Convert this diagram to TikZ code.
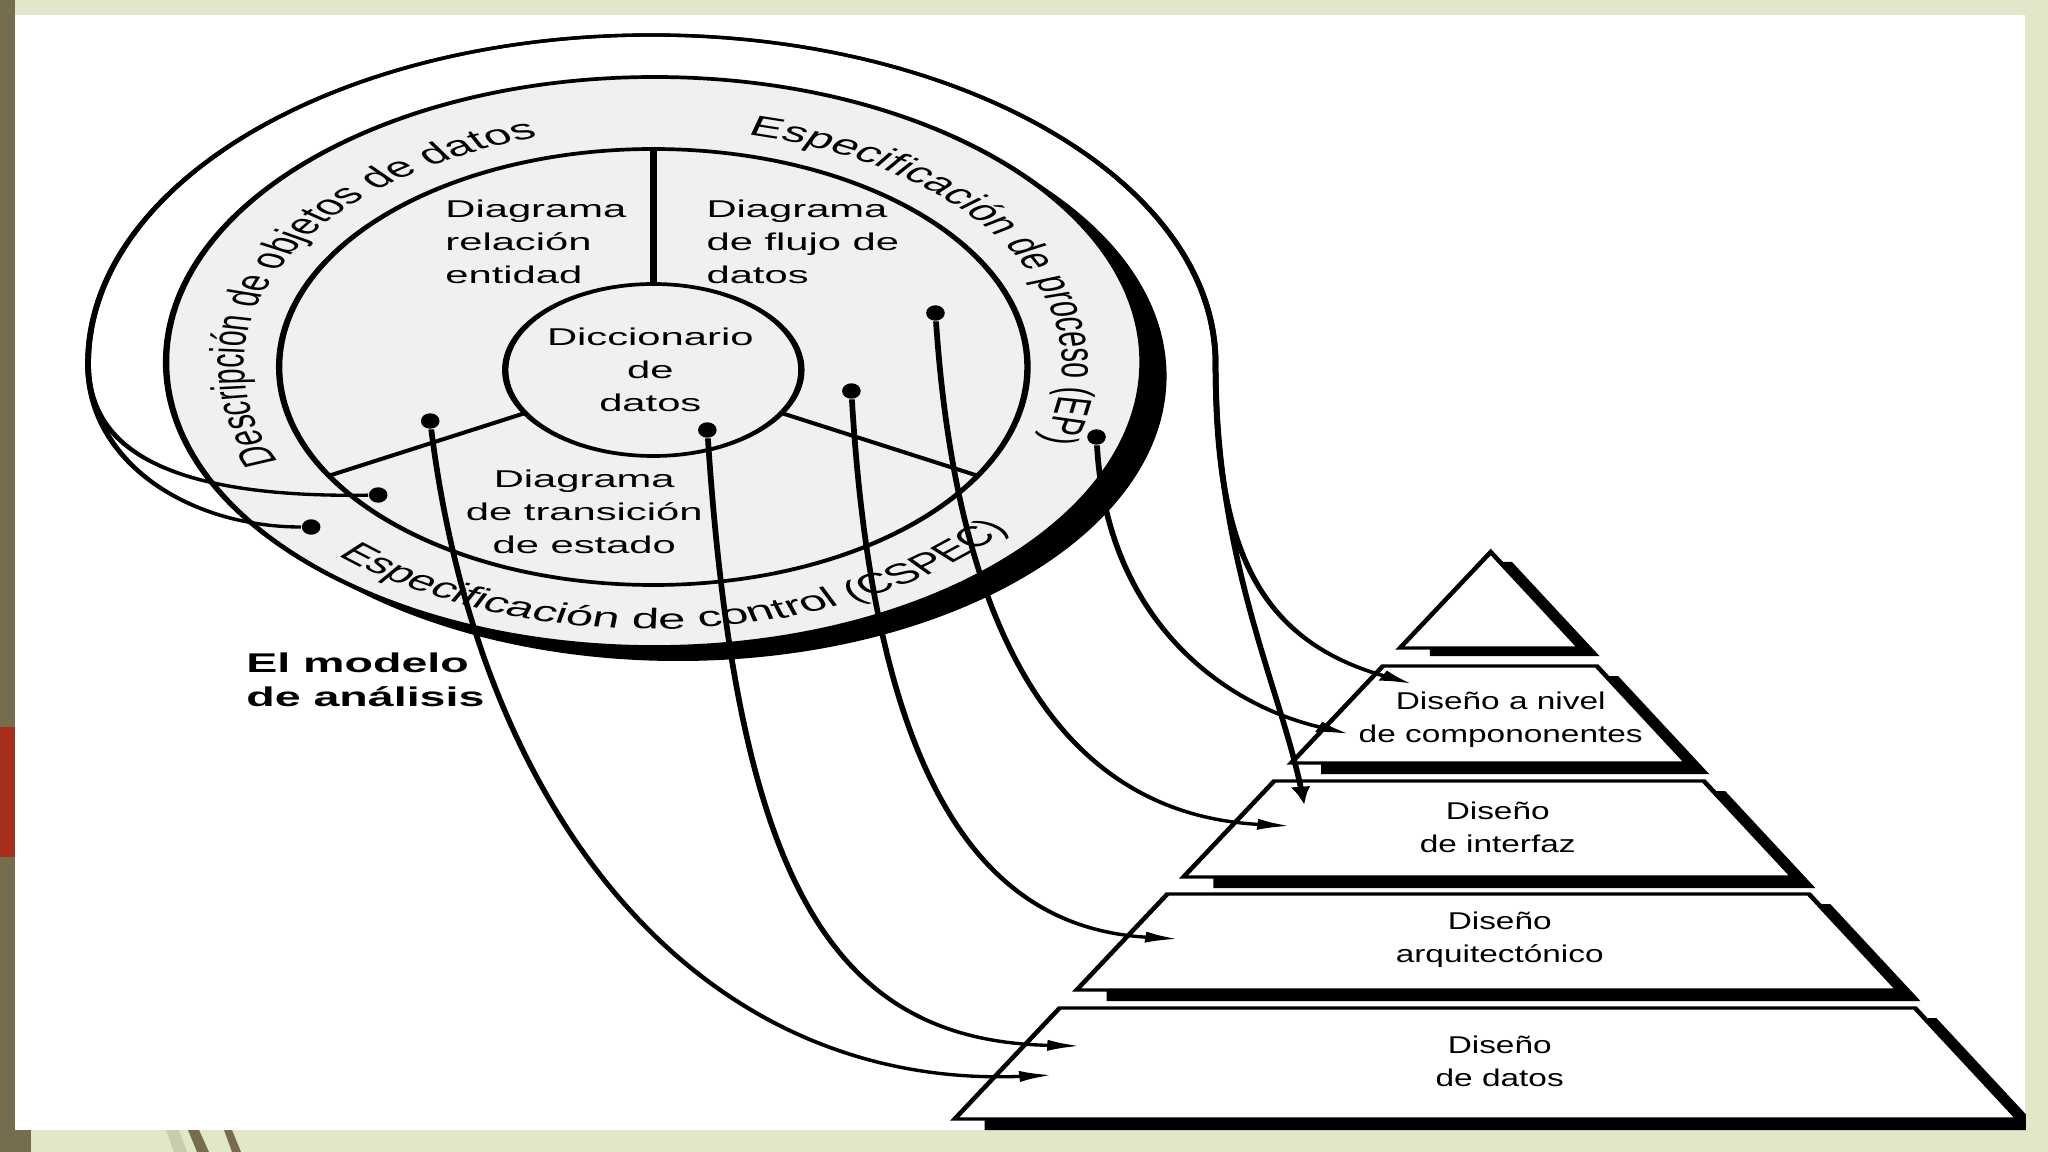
\documentclass[tikz,border=0pt]{standalone}
\usepackage{fontspec}
\setmainfont{Liberation Sans}
\usetikzlibrary{arrows.meta,decorations.text}
\definecolor{slidegreen}{RGB}{226,231,201}
\definecolor{slideolive}{RGB}{117,109,78}
\definecolor{slidered}{RGB}{166,48,28}
\definecolor{stripelight}{RGB}{200,204,172}
\definecolor{discfill}{RGB}{240,240,240}
\newcommand\ringfont{\fontsize{8.1}{9.5}\selectfont}
\tikzset{
  ring/.style={line width=1.05pt},
  conn/.style={line width=0.95pt,-{Latex[length=5.5pt,width=3.2pt]}},
  dotnode/.style={circle,fill=black,inner sep=0pt,minimum size=4.4pt,xscale=0.7},
  lbl/.style={inner sep=0pt,font=\fontsize{6.9}{9.4}\selectfont},
  pyrlbl/.style={inner sep=0pt,align=center,xscale=0.8,font=\fontsize{6.9}{9.4}\selectfont},
  tier/.style={fill=white,draw=black,line width=0.9pt,line join=miter},
  tiershadow/.style={fill=black},
  ringtext/.style={decorate,decoration={text along path,text align=center,text={|\ringfont|#1}}}
}
\begin{document}
\begin{tikzpicture}[x=0.01cm,y=-0.01cm]
\useasboundingbox (0,0) rectangle (2048,1152);
% slide frame
\fill[slidegreen] (0,0) rectangle (2048,1152);
\fill[white] (15,15) rectangle (2025,1130);
\fill[slideolive] (0,0) rectangle (15,1152);
\fill[slideolive] (0,1130) rectangle (31,1152);
\fill[slidered] (0,727) rectangle (15,857);
\fill[stripelight] (166,1130) -- (179,1130) -- (187,1152) -- (174,1152) -- cycle;
\fill[slideolive] (188,1130) -- (199,1130) -- (209,1152) -- (197,1152) -- cycle;
\fill[slideolive] (224,1130) -- (232,1130) -- (241,1152) -- (232,1152) -- cycle;

\begin{scope}[x={(0.00581395cm,0cm)},y={(0cm,-0.01cm)},transform canvas={xscale=1.72}]
\clip (15,15) rectangle (2025,1130);
% ---- analysis model disc ----
\fill[black] (678,376) ellipse [x radius=488, y radius=285];
\fill[discfill] (654,362) ellipse [x radius=488, y radius=285];
\draw[ring] (654,362) ellipse [x radius=488, y radius=285];
\draw[ring] (653,367) ellipse [x radius=374, y radius=218];
\draw[ring] (653,370) ellipse [x radius=148, y radius=86];
\draw[line width=1.2pt] (653,284) -- (653,149);
\draw[ring] (525,413) -- (328,476);
\draw[ring] (781,413) -- (978,476);

\node[lbl,align=left,anchor=west] (erd) at (444,242) {Diagrama\\relación\\entidad};
\node[lbl,align=left,anchor=west] (dfd) at (705,242) {Diagrama\\de flujo de\\datos};
\node[lbl,align=center] (dd) at (650,370) {Diccionario\\de\\datos};
\node[lbl,align=center] (std) at (584,512) {Diagrama\\de transición\\de estado};

\path[ringtext={Descripción de objetos de datos}]
  plot[domain=0:1,samples=90,variable=\q] ({653+409*cos(213-116*\q)},{366-238*sin(213-116*\q)});
\path[ringtext={Especificación de proceso (EP)}]
  plot[domain=0:1,samples=90,variable=\q] ({653+409*cos(87-116*\q)},{366-238*sin(87-116*\q)});
\path[ringtext={Especificación de control (CSPEC)}]
  plot[domain=0:1,samples=90,variable=\q] ({653+455*cos(215.8+116*\q)},{364-265*sin(215.8+116*\q)});

\node[inner sep=0pt,align=left,anchor=west,font=\fontsize{7.7}{9.7}\bfseries\selectfont] (modelo) at (245,680) {El modelo\\de análisis};

% ---- design pyramid ----
\fill[tiershadow] (1499.3,562) -- (1511.3,562) -- (1598.7,656) -- (1429.3,656) -- (1429.3,648) -- (1579.3,648) -- cycle;
\draw[tier] (1490,552) -- (1579.3,648) -- (1399.3,648) -- cycle;
\fill[tiershadow] (1605.3,676) -- (1617.3,676) -- (1708.4,774) -- (1320.6,774) -- (1320.6,763) -- (1686.2,763) -- cycle;
\draw[tier] (1382.3,666) -- (1596,666) -- (1686.2,763) -- (1290.6,763) -- cycle;
\fill[tiershadow] (1712.3,791) -- (1724.3,791) -- (1814.5,888) -- (1212.9,888) -- (1212.9,877) -- (1792.3,877) -- cycle;
\draw[tier] (1273.6,781) -- (1703,781) -- (1792.3,877) -- (1182.9,877) -- cycle;
\fill[tiershadow] (1817.4,904) -- (1829.4,904) -- (1919.5,1001) -- (1106.1,1001) -- (1106.1,990) -- (1897.3,990) -- cycle;
\draw[tier] (1166.8,894) -- (1808.1,894) -- (1897.3,990) -- (1076.1,990) -- cycle;
\fill[tiershadow] (1923.4,1018) -- (1935.4,1018) -- (2039.5,1130) -- (984.2,1130) -- (984.2,1119) -- (2017.3,1119) -- cycle;
\draw[tier] (1059.1,1008) -- (1914.1,1008) -- (2017.3,1119) -- (954.2,1119) -- cycle;

\node[pyrlbl] (comp) at (1500,720) {Diseño a nivel\\de compononentes};
\node[pyrlbl] (inter) at (1497,827) {Diseño\\de interfaz};
\node[pyrlbl] (arq) at (1499,940) {Diseño\\arquitectónico};
\node[pyrlbl] (dat) at (1499,1061) {Diseño\\de datos};

% ---- dots, wrap points and arrow targets ----
\node[dotnode] (dERD) at (430,421) {};
\node[dotnode] (dDD) at (707,430) {};
\node[dotnode] (dDFDa) at (851,391) {};
\node[dotnode] (dDFDb) at (935,313) {};
\node[dotnode] (dEP) at (1096,437) {};
\node[dotnode] (dSTD) at (378,495) {};
\node[dotnode] (dCSPEC) at (311,527) {};
\coordinate (WL) at (88,364);
\coordinate (WT) at (651,35);
\coordinate (WR) at (1215,364);
\coordinate (aComp1) at (1412,684);
\coordinate (aComp2) at (1349,734);
\coordinate (aInt1) at (1304,806);
\coordinate (aInt2) at (1290,826);
\coordinate (aArq) at (1178,939);
\coordinate (aDat1) at (1080,1046);
\coordinate (aDat2) at (1052,1075);

% ---- connectors ----
\draw[conn] (dERD) .. controls +(50,400) and +(-350,15) .. (aDat2);
\draw[conn] (dDD) .. controls +(30,450) and +(-250,-5) .. (aDat1);
\draw[conn] (dDFDa) .. controls +(25,420) and +(-180,-10) .. (aArq);
\draw[conn] (dDFDb) .. controls +(25,370) and +(-200,-10) .. (aInt2);
\draw[conn] (dEP) .. controls +(10,180) and +(-130,-30) .. (aComp2);
\draw[conn] (dSTD) .. controls +(-200,3) and (88,454) .. (WL)
  .. controls (88,182) and (340,35) .. (WT)
  .. controls (962,35) and (1215,182) .. (WR)
  .. controls (1215,540) and (1252,639) .. (aComp1);
\draw[conn] (dCSPEC) .. controls +(-120,0) and (88,464) .. (WL)
  .. controls (88,182) and (340,35) .. (WT)
  .. controls (962,35) and (1215,182) .. (WR)
  .. controls (1215,560) and (1279,686) .. (aInt1);
\end{scope}
\end{tikzpicture}
\end{document}
